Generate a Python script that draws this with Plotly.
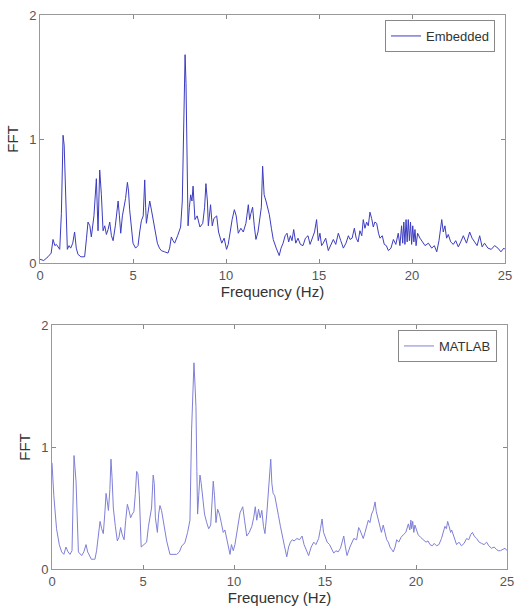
import plotly.graph_objects as go

# ---------------- Embedded (top panel) ----------------
emb_freq = [
    0, 0.2, 0.43, 0.6, 0.7, 0.8, 0.88, 1.06, 1.15, 1.24,
    1.3, 1.36, 1.47, 1.56, 1.65, 1.76, 1.86, 1.95, 2.04, 2.2,
    2.4, 2.5, 2.58, 2.68, 2.76, 2.9, 3.03, 3.12, 3.21, 3.3,
    3.39, 3.48, 3.57, 3.66, 3.75, 3.84, 3.93, 4.05, 4.2, 4.27,
    4.34, 4.43, 4.52, 4.6, 4.7, 4.76, 4.82, 4.9, 5.0, 5.14,
    5.27, 5.36, 5.45, 5.55, 5.63, 5.68, 5.72, 5.8, 5.9, 6.0,
    6.08, 6.2, 6.31, 6.42, 6.52, 6.7, 6.88, 6.97, 7.06, 7.15,
    7.24, 7.4, 7.56, 7.65, 7.74, 7.8, 7.85, 7.9, 7.96, 8.03,
    8.1, 8.17, 8.23, 8.33, 8.45, 8.6, 8.75, 8.85, 8.92, 9.0,
    9.05, 9.17, 9.26, 9.35, 9.5, 9.6, 9.77, 9.9, 10.03, 10.12,
    10.21, 10.33, 10.45, 10.55, 10.66, 10.8, 10.93, 11.07, 11.2, 11.27,
    11.34, 11.43, 11.52, 11.61, 11.72, 11.82, 11.9, 11.97, 12.05, 12.15,
    12.24, 12.33, 12.44, 12.54, 12.7, 12.86, 12.96, 13.07, 13.18, 13.28,
    13.37, 13.46, 13.55, 13.64, 13.75, 13.87, 14.0, 14.14, 14.27, 14.41,
    14.52, 14.64, 14.76, 14.87, 14.96, 15.05, 15.14, 15.23, 15.36, 15.5,
    15.63, 15.77, 15.9, 16.04, 16.17, 16.31, 16.45, 16.58, 16.67, 16.78,
    16.9, 17.0, 17.1, 17.2, 17.3, 17.38, 17.47, 17.56, 17.65, 17.74,
    17.83, 17.92, 18.0, 18.1, 18.2, 18.28, 18.4, 18.51, 18.62, 18.73,
    18.87, 19.0, 19.13, 19.26, 19.35, 19.44, 19.5, 19.56, 19.62, 19.68,
    19.74, 19.8, 19.86, 19.92, 19.98, 20.04, 20.1, 20.16, 20.22, 20.3,
    20.43, 20.56, 20.7, 20.88, 21.06, 21.2, 21.33, 21.45, 21.6, 21.68,
    21.77, 21.86, 21.95, 22.08, 22.22, 22.35, 22.49, 22.62, 22.76, 22.93,
    23.1, 23.23, 23.37, 23.5, 23.64, 23.77, 23.9, 24.08, 24.26, 24.44,
    24.62, 24.78, 24.94, 25.0,
]
emb_fft = [
    0.03, 0.02, 0.05, 0.08, 0.19, 0.14, 0.15, 0.11, 0.4, 1.03,
    0.95, 0.62, 0.11, 0.14, 0.12, 0.16, 0.25, 0.12, 0.07, 0.05,
    0.05, 0.2, 0.33, 0.3, 0.21, 0.38, 0.68, 0.26, 0.75, 0.55,
    0.26, 0.3, 0.23, 0.27, 0.33, 0.22, 0.18, 0.3, 0.5, 0.38,
    0.24, 0.38, 0.46, 0.52, 0.65, 0.58, 0.43, 0.3, 0.16, 0.12,
    0.14, 0.25, 0.34, 0.38, 0.67, 0.45, 0.32, 0.4, 0.5, 0.42,
    0.35, 0.25, 0.16, 0.12, 0.1, 0.09, 0.08, 0.12, 0.21, 0.18,
    0.16, 0.22, 0.29, 0.5, 1.3, 1.68, 1.45, 1.02, 0.3, 0.45,
    0.55, 0.5, 0.62, 0.35, 0.38, 0.29, 0.32, 0.45, 0.64, 0.5,
    0.3, 0.47, 0.3, 0.36, 0.38, 0.25, 0.16, 0.2, 0.11, 0.15,
    0.24, 0.35, 0.43, 0.38, 0.24, 0.28, 0.25, 0.32, 0.47, 0.35,
    0.4, 0.45, 0.3, 0.19, 0.25, 0.38, 0.45, 0.78, 0.55, 0.5,
    0.45, 0.39, 0.28, 0.19, 0.12, 0.06, 0.12, 0.16, 0.22, 0.24,
    0.17, 0.22, 0.18, 0.27, 0.16, 0.2, 0.15, 0.14, 0.2, 0.22,
    0.15, 0.2, 0.25, 0.35, 0.18, 0.24, 0.14, 0.16, 0.2, 0.1,
    0.14, 0.19, 0.15, 0.24, 0.18, 0.12, 0.16, 0.22, 0.19, 0.2,
    0.28, 0.2, 0.17, 0.26, 0.22, 0.35, 0.28, 0.33, 0.3, 0.41,
    0.36, 0.29, 0.33, 0.32, 0.24, 0.2, 0.22, 0.15, 0.14, 0.1,
    0.12, 0.19, 0.15, 0.24, 0.14, 0.3, 0.16, 0.33, 0.15, 0.35,
    0.17, 0.35, 0.18, 0.33, 0.15, 0.3, 0.17, 0.27, 0.14, 0.24,
    0.2, 0.17, 0.14, 0.16, 0.12, 0.14, 0.09, 0.18, 0.35, 0.25,
    0.3, 0.2, 0.23, 0.17, 0.15, 0.18, 0.13, 0.17, 0.22, 0.16,
    0.25, 0.2, 0.17, 0.14, 0.22, 0.13, 0.16, 0.12, 0.11, 0.14,
    0.12, 0.09, 0.12, 0.11,
]

# ---------------- MATLAB (bottom panel) ----------------
mat_freq = [
    0, 0.1, 0.25, 0.4, 0.53, 0.65, 0.77, 0.88, 0.99, 1.1,
    1.21, 1.27, 1.32, 1.45, 1.54, 1.63, 1.75, 1.87, 1.96, 2.05,
    2.16, 2.27, 2.36, 2.45, 2.55, 2.64, 2.73, 2.82, 2.9, 2.97,
    3.04, 3.1, 3.18, 3.24, 3.3, 3.37, 3.48, 3.59, 3.68, 3.77,
    3.86, 3.96, 4.05, 4.14, 4.23, 4.32, 4.41, 4.5, 4.58, 4.65,
    4.72, 4.8, 4.9, 5.05, 5.2, 5.3, 5.38, 5.47, 5.56, 5.62,
    5.68, 5.74, 5.79, 5.86, 5.93, 6.02, 6.12, 6.3, 6.48, 6.66,
    6.85, 7.0, 7.13, 7.22, 7.31, 7.45, 7.58, 7.67, 7.74, 7.8,
    7.86, 7.91, 7.96, 8.0, 8.06, 8.13, 8.2, 8.28, 8.38, 8.5,
    8.61, 8.72, 8.8, 8.86, 8.93, 9.01, 9.1, 9.2, 9.3, 9.41,
    9.5, 9.6, 9.7, 9.78, 9.86, 9.96, 10.05, 10.15, 10.25, 10.33,
    10.42, 10.48, 10.58, 10.7, 10.84, 10.98, 11.08, 11.17, 11.25, 11.35,
    11.44, 11.53, 11.62, 11.7, 11.8, 11.9, 11.96, 12.02, 12.08, 12.15,
    12.24, 12.33, 12.44, 12.55, 12.66, 12.77, 12.9, 13.0, 13.1, 13.2,
    13.3, 13.46, 13.6, 13.74, 13.85, 13.98, 14.1, 14.24, 14.38, 14.5,
    14.65, 14.75, 14.84, 14.92, 15.0, 15.12, 15.25, 15.38, 15.48, 15.6,
    15.72, 15.85, 15.95, 16.03, 16.12, 16.21, 16.37, 16.5, 16.58, 16.74,
    16.85, 16.92, 17.0, 17.1, 17.2, 17.3, 17.38, 17.47, 17.56, 17.65,
    17.75, 17.82, 17.88, 17.95, 18.02, 18.1, 18.2, 18.3, 18.39, 18.48,
    18.57, 18.66, 18.75, 18.85, 18.94, 19.05, 19.18, 19.3, 19.44, 19.58,
    19.66, 19.72, 19.76, 19.82, 19.88, 19.94, 20.02, 20.12, 20.25, 20.4,
    20.55, 20.66, 20.77, 20.9, 21.0, 21.13, 21.26, 21.4, 21.5, 21.59,
    21.67, 21.74, 21.82, 21.9, 21.96, 22.1, 22.23, 22.36, 22.5, 22.64,
    22.78, 22.9, 23.0, 23.1, 23.2, 23.33, 23.47, 23.6, 23.74, 23.88,
    24.0, 24.15, 24.3, 24.42, 24.52, 24.64, 24.76, 24.89, 25.0,
]
mat_fft = [
    0.87, 0.6, 0.33, 0.2, 0.14, 0.12, 0.18, 0.14, 0.12, 0.15,
    0.93, 0.8, 0.72, 0.14, 0.12, 0.11, 0.14, 0.2, 0.14, 0.11,
    0.08, 0.08, 0.08, 0.15, 0.3, 0.39, 0.33, 0.29, 0.45, 0.62,
    0.55, 0.48, 0.65, 0.9, 0.75, 0.5, 0.35, 0.23, 0.26, 0.34,
    0.28, 0.24, 0.4, 0.53, 0.48, 0.42, 0.45, 0.47, 0.62, 0.8,
    0.78, 0.6, 0.18, 0.2, 0.22, 0.35, 0.42, 0.5, 0.77, 0.7,
    0.42, 0.35, 0.3, 0.45, 0.52, 0.48, 0.4, 0.23, 0.12, 0.12,
    0.12, 0.14, 0.19, 0.2, 0.22, 0.3, 0.4, 1.14, 1.4, 1.69,
    1.5, 1.33, 0.8, 0.45, 0.6, 0.77, 0.7, 0.6, 0.45, 0.38,
    0.33, 0.36, 0.55, 0.72, 0.6, 0.38, 0.49, 0.45, 0.38, 0.3,
    0.32, 0.25, 0.18, 0.12, 0.2, 0.15, 0.2, 0.3, 0.4, 0.46,
    0.49, 0.51, 0.4, 0.27, 0.3, 0.35, 0.42, 0.51, 0.4, 0.49,
    0.42, 0.48, 0.35, 0.29, 0.45, 0.7, 0.78, 0.9, 0.7, 0.62,
    0.6, 0.51, 0.44, 0.35, 0.26, 0.19, 0.1, 0.18, 0.22, 0.24,
    0.23, 0.25, 0.24, 0.27, 0.2, 0.16, 0.11, 0.18, 0.22, 0.2,
    0.25, 0.33, 0.41, 0.3, 0.26, 0.22, 0.2, 0.16, 0.13, 0.15,
    0.14, 0.17, 0.22, 0.27, 0.18, 0.11, 0.18, 0.22, 0.25, 0.24,
    0.34, 0.32, 0.28, 0.25, 0.3, 0.36, 0.4, 0.38, 0.45, 0.48,
    0.55, 0.47, 0.43, 0.38, 0.33, 0.3, 0.36, 0.3, 0.24, 0.22,
    0.18, 0.16, 0.14, 0.18, 0.24, 0.22, 0.26, 0.28, 0.3, 0.37,
    0.32, 0.4, 0.33, 0.39, 0.3, 0.36, 0.32, 0.28, 0.26, 0.24,
    0.22, 0.23, 0.2, 0.19, 0.21, 0.19, 0.2, 0.25, 0.3, 0.35,
    0.33, 0.39, 0.35, 0.3, 0.32, 0.25, 0.2, 0.22, 0.19, 0.21,
    0.25, 0.24, 0.28, 0.3, 0.27, 0.25, 0.22, 0.21, 0.2, 0.22,
    0.19, 0.17, 0.18, 0.16, 0.15, 0.15, 0.16, 0.17, 0.15,
]

x_ticks = [0, 5, 10, 15, 20, 25]
y_ticks = [0, 1, 2]
x_title = "Frequency (Hz)"
y_title = "FFT"

W, H = 514, 606
FONT = "Liberation Sans, Arial, sans-serif"
TICK_FONT = dict(family=FONT, size=13, color="#555")
TITLE_FONT = dict(family=FONT, size=15, color="#333")

fig = go.Figure()
fig.add_trace(go.Scatter(x=emb_freq, y=emb_fft, mode="lines", name="Embedded",
                         line=dict(color="#3c3cc0", width=1), xaxis="x", yaxis="y",
                         legend="legend"))
fig.add_trace(go.Scatter(x=mat_freq, y=mat_fft, mode="lines", name="MATLAB",
                         line=dict(color="#7f7fd8", width=1), xaxis="x2", yaxis="y2",
                         legend="legend2"))

def xax(domain, anchor):
    return dict(domain=domain, anchor=anchor, range=[0, 25], tickvals=x_ticks,
                ticks="inside", ticklen=4, tickcolor="#888", mirror="ticks",
                showline=True, linecolor="#999", linewidth=1, showgrid=False,
                zeroline=False, tickfont=TICK_FONT, automargin=False,
                ticklabeloverflow="allow",
                title=dict(text=x_title, font=TITLE_FONT, standoff=2))

def yax(domain, anchor):
    return dict(domain=domain, anchor=anchor, range=[0, 2], tickvals=y_ticks,
                ticks="inside", ticklen=4, tickcolor="#888", mirror="ticks",
                showline=True, linecolor="#999", linewidth=1, showgrid=False,
                zeroline=False, tickfont=TICK_FONT, automargin=False,
                ticklabeloverflow="allow",
                title=dict(text=y_title, font=TITLE_FONT, standoff=6))

leg_common = dict(xanchor="right", yanchor="top", bgcolor="white",
                  bordercolor="#888", borderwidth=1,
                  font=dict(family=FONT, size=13, color="#333"),
                  tracegroupgap=0, itemwidth=30)

fig.update_layout(
    width=W, height=H,
    margin=dict(l=0, r=0, t=0, b=0, autoexpand=False),
    paper_bgcolor="white", plot_bgcolor="white",
    xaxis=xax([40 / W, 505 / W], "y"),
    yaxis=yax([1 - 263 / H, 1 - 15 / H], "x"),
    xaxis2=xax([52 / W, 507 / W], "y2"),
    yaxis2=yax([1 - 569 / H, 1 - 325 / H], "x2"),
    legend=dict(x=495 / W, y=1 - 20 / H, **leg_common),
    legend2=dict(x=497 / W, y=1 - 330 / H, **leg_common),
    showlegend=True,
)

fig.write_html("out.html")
